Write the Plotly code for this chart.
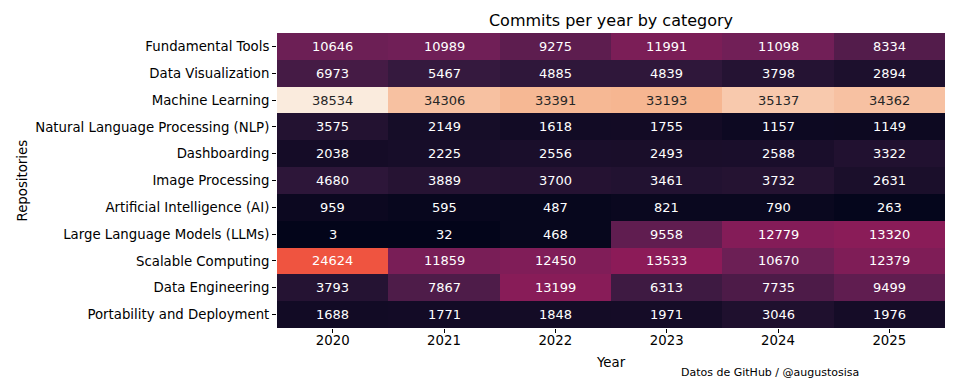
import plotly.graph_objects as go

years = ["2020", "2021", "2022", "2023", "2024", "2025"]
categories = [
    "Fundamental Tools",
    "Data Visualization",
    "Machine Learning",
    "Natural Language Processing (NLP)",
    "Dashboarding",
    "Image Processing",
    "Artificial Intelligence (AI)",
    "Large Language Models (LLMs)",
    "Scalable Computing",
    "Data Engineering",
    "Portability and Deployment",
]
fundamental_tools = [10646, 10989, 9275, 11991, 11098, 8334]
data_visualization = [6973, 5467, 4885, 4839, 3798, 2894]
machine_learning = [38534, 34306, 33391, 33193, 35137, 34362]
nlp = [3575, 2149, 1618, 1755, 1157, 1149]
dashboarding = [2038, 2225, 2556, 2493, 2588, 3322]
image_processing = [4680, 3889, 3700, 3461, 3732, 2631]
ai = [959, 595, 487, 821, 790, 263]
llms = [3, 32, 468, 9558, 12779, 13320]
scalable_computing = [24624, 11859, 12450, 13533, 10670, 12379]
data_engineering = [3793, 7867, 13199, 6313, 7735, 9499]
portability = [1688, 1771, 1848, 1971, 3046, 1976]

z = [fundamental_tools, data_visualization, machine_learning, nlp, dashboarding,
     image_processing, ai, llms, scalable_computing, data_engineering, portability]

rocket = [
    [0.0, "#03051a"],
    [1/7, "#35193e"],
    [2/7, "#701f57"],
    [3/7, "#ad1759"],
    [4/7, "#e13342"],
    [0.64, "#ef5440"],
    [5/7, "#f37651"],
    [6/7, "#f6b48f"],
    [1.0, "#faebdd"],
]

zmin = min(min(r) for r in z)
zmax = max(max(r) for r in z)

FONT = "DejaVu Sans"

fig = go.Figure(go.Heatmap(
    z=z, x=years, y=categories, colorscale=rocket, zmin=zmin, zmax=zmax,
    showscale=False, xgap=0, ygap=0, hoverinfo="x+y+z",
))

annotations = []
for i, cat in enumerate(categories):
    for j, yr in enumerate(years):
        v = z[i][j]
        frac = (v - zmin) / (zmax - zmin)
        color = "#262626" if frac > 0.75 else "white"
        annotations.append(dict(x=j, y=i, text=str(v), showarrow=False,
                                font=dict(family=FONT, size=13, color=color)))

annotations.append(dict(xref="paper", yref="paper", x=0, y=0.5, xshift=-255,
                        xanchor="center", yanchor="middle",
                        text="Repositories", textangle=-90, showarrow=False,
                        font=dict(family=FONT, size=13.3, color="black")))
annotations.append(dict(xref="paper", yref="paper", x=0.5, y=0, yshift=-34,
                        xanchor="center", yanchor="middle",
                        text="Year", showarrow=False,
                        font=dict(family=FONT, size=13.3, color="black")))
annotations.append(dict(xref="paper", yref="paper", x=0, y=0, xshift=493, yshift=-44,
                        xanchor="center", yanchor="middle",
                        text="Datos de GitHub / @augustosisa", showarrow=False,
                        font=dict(family=FONT, size=11, color="black")))

# the page body adds an 8px offset; margins compensate for it
fig.update_layout(
    width=960, height=384,
    margin=dict(l=269, r=23, t=25, b=64),
    paper_bgcolor="white", plot_bgcolor="white",
    font=dict(family=FONT, size=13, color="black"),
    title=dict(text="Commits per year by category", x=603/960, xanchor="center",
               y=1 - 12/384, yanchor="middle",
               font=dict(family=FONT, size=16, color="black")),
    annotations=annotations,
)
fig.update_xaxes(type="category", range=[-0.5, len(years) - 0.5], ticks="outside",
                 ticklen=4, tickcolor="black", automargin=False, ticklabelstandoff=-4,
                 showgrid=False, zeroline=False, showline=False,
                 tickfont=dict(family=FONT, size=13.3, color="black"))
fig.update_yaxes(type="category", range=[len(categories) - 0.5, -0.5], ticks="outside",
                 ticklen=4, automargin=False,
                 tickcolor="black", showgrid=False, zeroline=False, showline=False,
                 tickfont=dict(family=FONT, size=13.3, color="black"))

fig.write_html("out.html")
